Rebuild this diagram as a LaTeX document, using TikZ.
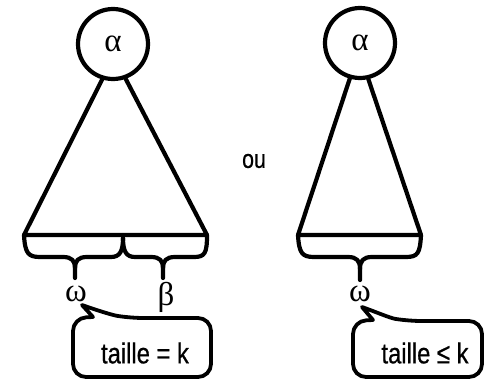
\documentclass[tikz,border=0pt]{standalone}
\usepackage{fontspec}
\setmainfont{Liberation Sans}[FakeStretch=0.82,FakeBold=0.6]
\newfontfamily\greekfont{Liberation Serif}
\begin{document}
\begin{tikzpicture}[x=1pt,y=-1pt,
  line width=4.2pt, line join=round, line cap=round,
  root/.style={draw, circle, minimum size=70pt, inner sep=0pt,
    font=\greekfont\fontsize{33}{35}\selectfont},
  greek/.style={inner sep=0pt, font=\greekfont\fontsize{33}{35}\selectfont},
  note/.style={inner sep=0pt, font=\fontsize{29}{32}\selectfont},
  callout/.style={line width=3.8pt}]
\useasboundingbox (0,0) rectangle (484,380);

% ---- left tree ----
\node[root] (a1) at (113,44) {α};
\coordinate (bl1) at (24,235);
\coordinate (br1) at (207,235);
\coordinate (m1) at (123,238);
\coordinate (tw1) at (75,278);
\coordinate (tb1) at (163,278);
\draw (a1.-107) -- (bl1) -- (br1) -- (a1.-70);
% braces under the base
\draw (bl1) .. controls (25,253) and (28,257) .. (40,257) -- (63,257)
  .. controls (72,257) and (75,261) .. (75,268) -- (tw1);
\draw (75,268) .. controls (75,261) and (78,257) .. (87,257) -- (111,257)
  .. controls (120,257) and (123,251) .. (m1);
\draw (m1) .. controls (123,251) and (126,257) .. (135,257) -- (151,257)
  .. controls (160,257) and (163,261) .. (163,268) -- (tb1);
\draw (163,268) .. controls (163,261) and (166,257) .. (175,257) -- (194,257)
  .. controls (205,257) and (207,253) .. (br1);
\draw (m1) -- (123,235);
\node[greek] (w1) at (76,294) {ω};
\node[greek] (b1) at (166,297) {β};

% ---- "ou" ----
\node[note, font=\fontsize{26}{28}\selectfont] (ou) at (254,161) {ou};

% ---- right tree ----
\node[root] (a2) at (360,43) {α};
\coordinate (bl2) at (298,235);
\coordinate (br2) at (421,235);
\coordinate (tw2) at (360,280);
\draw (a2.-106) -- (bl2) -- (br2) -- (a2.-77);
\draw (bl2) .. controls (299,253) and (302,257) .. (314,257) -- (348,257)
  .. controls (357,257) and (360,261) .. (360,269) -- (tw2);
\draw (360,269) .. controls (360,261) and (363,257) .. (372,257) -- (406,257)
  .. controls (418,257) and (420,253) .. (br2);
\node[greek] (w2) at (360,294) {ω};

% ---- callouts ----
\coordinate (p1) at (82,305);
\draw[callout] (p1) -- (93,317) [rounded corners=13pt] -- (73,318) -- (73,377)
  -- (211,377) -- (211,318) -- (130,318) [sharp corners]
  .. controls (112,315) and (96,310) .. (p1) -- cycle;
\node[note] (t1) at (145,353) {taille = k};

\coordinate (p2) at (362,307);
\draw[callout] (p2) -- (373,320) [rounded corners=13pt] -- (353,321) -- (353,377)
  -- (482,377) -- (482,321) -- (408,321) [sharp corners]
  .. controls (390,318) and (376,312) .. (p2) -- cycle;
\node[note] (t2) at (425,353) {taille ≤ k};
\end{tikzpicture}
\end{document}
